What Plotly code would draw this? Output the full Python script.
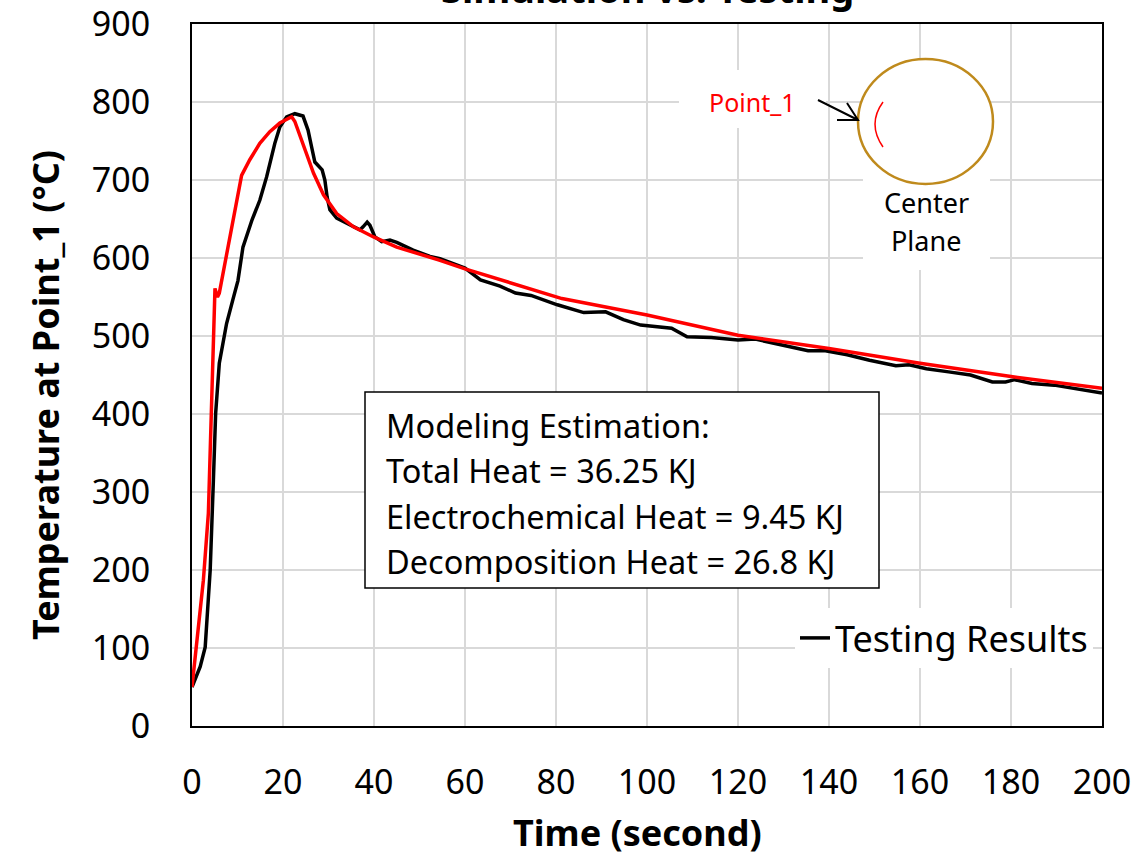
import plotly.graph_objects as go

# ---------------- data ----------------
test_time = [0, 1.8, 2.9, 4.0, 4.7, 5.2, 6.0, 7.6, 9.0, 10.1, 11.2, 13.2, 14.9, 16.4, 18.2,
             19.3, 20.8, 22.6, 24.4, 25.5, 26.3, 27.0, 28.6, 29.2, 29.7, 30.3, 31.8, 34.0,
             36.9, 37.6, 38.5, 39.1, 40.2, 41.7, 43.5, 45.0, 48.6, 52.3, 54.5, 60, 63.4,
             67.7, 71.1, 74.5, 80.3, 86.1, 90.9, 94.8, 98.6, 105.4, 108.8, 114.1, 120,
             123.8, 127.6, 131.5, 135.4, 139.2, 144, 148.9, 154.7, 157.6, 161.4, 166.3,
             171.1, 175.9, 178.8, 180.8, 184.6, 189.5, 193.3, 200]
test_temp = [50, 76, 101, 200, 315, 401, 465, 516, 547, 571, 614, 649, 674, 704, 747,
             768, 781, 785, 782, 764, 742, 723, 713, 700, 678, 662, 651, 645,
             636, 640, 646, 642, 627, 621, 623, 620, 610, 602, 599, 587, 572,
             564, 555, 552, 540, 530, 531, 521, 514, 510, 499, 498, 495,
             496, 491, 486, 481, 481, 476, 469, 462, 463, 458, 454,
             450, 441, 441, 444, 439, 437, 433, 427]

sim_time = [0, 1.0, 2.5, 3.6, 4.3, 4.7, 4.9, 5.05, 5.6, 6.0, 10.9, 12.7, 14.9, 17.1,
            19.3, 21.9, 22.6, 23.7, 25.2, 26.7, 28.9, 31.8, 35.5, 39.9, 45, 48.6, 54.5,
            60, 71.6, 81.3, 100, 120, 140, 160, 180, 200]
sim_temp = [50, 102, 187, 273, 401, 486, 540, 561, 550, 555, 706, 726, 747, 762,
            773, 781, 775, 758, 734, 709, 681, 657, 640, 627, 614, 608, 597,
            586, 565, 548, 527, 501, 484, 465, 448, 433]

x_ticks = [0, 20, 40, 60, 80, 100, 120, 140, 160, 180, 200]
y_ticks = [0, 100, 200, 300, 400, 500, 600, 700, 800, 900]

title_text = "Simulation vs. Testing"
x_title = "Time (second)"
y_title = "Temperature at Point_1 (°C)"
box_lines = ["Modeling Estimation:", "Total Heat = 36.25 KJ",
             "Electrochemical Heat = 9.45 KJ", "Decomposition Heat = 26.8 KJ"]

# ---------------- layout helpers (pixel -> paper) ----------------
W, H = 1135, 856
L, R, T, B = 192, 33, 24, 130
PW, PH = W - L - R, H - T - B


def px(x):
    return (x - L) / PW


def py(y):
    return (T + PH - y) / PH


FONT = "Noto Sans, Open Sans, sans-serif"

fig = go.Figure()
fig.add_trace(go.Scatter(x=test_time, y=test_temp, mode="lines", name="Testing Results",
                         line=dict(color="black", width=3.5), showlegend=True))
fig.add_trace(go.Scatter(x=sim_time, y=sim_temp, mode="lines", name="Simulation",
                         line=dict(color="#FF0000", width=3.5), showlegend=False))

axis_common = dict(showgrid=True, gridcolor="#D9D9D9", gridwidth=1.5, showline=True,
                   linecolor="black", linewidth=2, mirror=True, zeroline=False, ticks="",
                   automargin=False, ticklabeloverflow="allow",
                   tickfont=dict(family=FONT, size=34, color="black"))
fig.update_xaxes(range=[0, 200], tickvals=x_ticks, ticklabelstandoff=25, **axis_common)
fig.update_yaxes(range=[0, 900], tickvals=y_ticks, ticklabelstandoff=33, **axis_common)

shapes = [
    # modeling estimation box
    dict(type="rect", xref="paper", yref="paper", x0=px(365), x1=px(879), y0=py(588), y1=py(392),
         fillcolor="white", line=dict(color="black", width=1.5), layer="above"),
    # white backgrounds of the inset labels
    dict(type="rect", xref="paper", yref="paper", x0=px(679), x1=px(826), y0=py(128), y1=py(70),
         fillcolor="white", line=dict(width=0), layer="above"),
    dict(type="rect", xref="paper", yref="paper", x0=px(863), x1=px(990), y0=py(270), y1=py(172),
         fillcolor="white", line=dict(width=0), layer="above"),
    # circle (center plane)
    dict(type="circle", xref="paper", yref="paper", x0=px(858), x1=px(993), y0=py(184), y1=py(59),
         fillcolor="white", line=dict(color="#BF8A1C", width=2.5), layer="above"),
    # red arc (point 1)
    dict(type="path", xref="paper", yref="paper",
         path=f"M {px(883)} {py(102)} Q {px(867)} {py(124)} {px(883)} {py(147)}",
         line=dict(color="#FF0000", width=1.5), layer="above"),
    # arrow
    dict(type="path", xref="paper", yref="paper",
         path=(f"M {px(818)} {py(100)} L {px(858)} {py(120)} "
               f"M {px(837)} {py(120)} L {px(858)} {py(120)} L {px(847)} {py(103)}"),
         line=dict(color="black", width=2), layer="above"),
]

annotations = [
    dict(text=f"<b>{title_text}</b>", xref="paper", yref="paper", x=px(647), y=1,
         xanchor="center", yanchor="bottom", yshift=8, showarrow=False,
         font=dict(family=FONT, size=38, color="black")),
    dict(text=f"<b>{x_title}</b>", xref="paper", yref="paper", x=px(637), y=py(832),
         xanchor="center", yanchor="middle", showarrow=False,
         font=dict(family=FONT, size=36, color="black")),
    dict(text=f"<b>{y_title}</b>", xref="paper", yref="paper", x=px(45), y=py(395),
         xanchor="center", yanchor="middle", textangle=-90, showarrow=False,
         font=dict(family=FONT, size=36, color="black")),
    dict(text="Point_1", xref="paper", yref="paper", x=px(752), y=py(102),
         xanchor="center", yanchor="middle", showarrow=False,
         font=dict(family=FONT, size=25, color="#FF0000")),
    dict(text="Center", xref="paper", yref="paper", x=px(926), y=py(203),
         xanchor="center", yanchor="middle", showarrow=False,
         font=dict(family=FONT, size=27, color="black")),
    dict(text="Plane", xref="paper", yref="paper", x=px(926), y=py(240),
         xanchor="center", yanchor="middle", showarrow=False,
         font=dict(family=FONT, size=27, color="black")),
]
for line_text, yc in zip(box_lines, [425, 471, 516, 561]):
    annotations.append(dict(text=line_text, xref="paper", yref="paper", x=px(384), y=py(yc),
                            xanchor="left", yanchor="middle", showarrow=False,
                            font=dict(family=FONT, size=32.5, color="black")))

fig.update_layout(
    width=W, height=H,
    margin=dict(l=L, r=R, t=T, b=B, autoexpand=False),
    paper_bgcolor="white", plot_bgcolor="white",
    font=dict(family=FONT, color="black"),
    shapes=shapes, annotations=annotations,
    legend=dict(x=px(1093), y=py(638), xanchor="right", yanchor="middle",
                bgcolor="white", font=dict(family=FONT, size=36, color="black"),
                itemwidth=30),
)

fig.write_html("out.html")
